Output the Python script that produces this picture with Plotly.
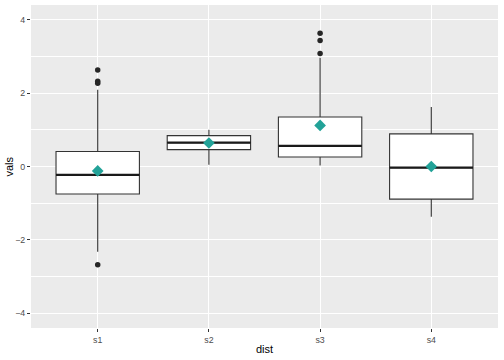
import plotly.graph_objects as go

categories = ["s1", "s2", "s3", "s4"]
positions = [1, 2, 3, 4]
q1 = [-0.75, 0.46, 0.26, -0.89]
median = [-0.23, 0.65, 0.56, -0.03]
q3 = [0.41, 0.84, 1.35, 0.89]
lower_whisker = [-2.32, 0.05, 0.03, -1.37]
upper_whisker = [2.09, 1.00, 2.96, 1.62]
means = [-0.12, 0.64, 1.12, 0.00]
outlier_group = ["s1", "s1", "s1", "s1", "s3", "s3", "s3"]
outlier_vals = [2.63, 2.32, 2.27, -2.68, 3.63, 3.43, 3.08]

BOX_W = 0.75
pos_of = dict(zip(categories, positions))

fig = go.Figure()
fig.add_trace(go.Box(
    x=positions, q1=q1, median=median, q3=q3,
    lowerfence=lower_whisker, upperfence=upper_whisker,
    boxpoints=False, width=BOX_W, whiskerwidth=0,
    fillcolor="white", line=dict(color="#333333", width=1.1),
    hoverinfo="skip", showlegend=False,
))

mx, my = [], []
for p, m in zip(positions, median):
    mx += [p - BOX_W / 2, p + BOX_W / 2, None]
    my += [m, m, None]
fig.add_trace(go.Scatter(x=mx, y=my, mode="lines",
                         line=dict(color="#1a1a1a", width=2.2),
                         showlegend=False, hoverinfo="skip"))

fig.add_trace(go.Scatter(x=[pos_of[g] for g in outlier_group], y=outlier_vals,
                         mode="markers", marker=dict(color="#262626", size=5.5),
                         showlegend=False))

fig.add_trace(go.Scatter(x=positions, y=means, mode="markers",
                         marker=dict(symbol="diamond", color="#22A298", size=9,
                                     line=dict(width=0)),
                         showlegend=False))

FONT = "Liberation Sans, Arial, sans-serif"
tickfont = dict(family=FONT, size=8.8, color="#4D4D4D")
titlefont = dict(family=FONT, size=11, color="black")

fig.update_layout(
    template="none",
    width=504, height=360,
    margin=dict(l=31, r=6, t=5, b=32, autoexpand=False),
    paper_bgcolor="white", plot_bgcolor="#EBEBEB",
    xaxis=dict(range=[0.4, 4.6], tickvals=positions, ticktext=categories,
               showgrid=True, gridcolor="white", gridwidth=1.1, zeroline=False,
               showline=False, automargin=False,
               ticks="outside", ticklen=3, tickwidth=1.1, tickcolor="#333333",
               tickfont=tickfont),
    yaxis=dict(range=[-4.4, 4.4], tickvals=[-4, -2, 0, 2, 4],
               showgrid=True, gridcolor="white", gridwidth=1.1, zeroline=False,
               showline=False, automargin=False,
               ticks="outside", ticklen=3, tickwidth=1.1, tickcolor="#333333",
               tickfont=tickfont,
               minor=dict(tickvals=[-3, -1, 1, 3], showgrid=True, gridcolor="white",
                          gridwidth=0.55, ticks="")),
    annotations=[
        dict(text="dist", xref="paper", yref="paper", x=0.5, y=-0.065,
             xanchor="center", yanchor="middle", showarrow=False, font=titlefont),
        dict(text="vals", xref="paper", yref="paper", x=-0.049, y=0.5,
             xanchor="center", yanchor="middle", textangle=-90, showarrow=False,
             font=titlefont),
    ],
)

fig.write_html("out.html", config={"displayModeBar": False},
               post_script="document.body.style.margin='0';")
